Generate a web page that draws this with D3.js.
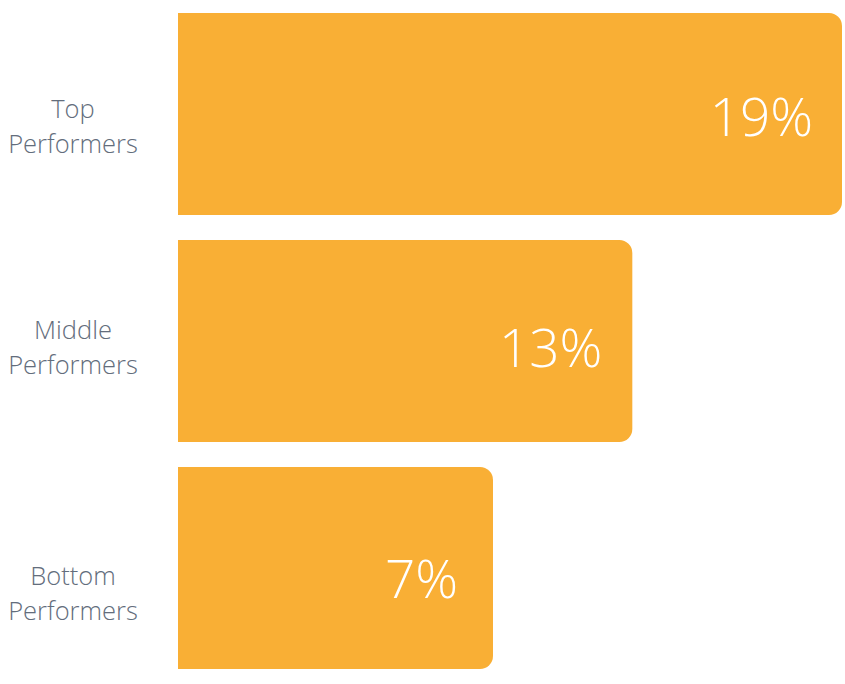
<!DOCTYPE html>
<html>
<head>
<meta charset="utf-8">
<script src="https://cdn.jsdelivr.net/npm/d3@7"></script>
<style>
  html, body { margin: 0; padding: 0; background: #fff; }
  svg { display: block; }
</style>
</head>
<body>
<svg id="chart" width="845" height="684"></svg>
<script>
// Data
const categories = ["Top Performers", "Middle Performers", "Bottom Performers"];
const labelLines = [["Top", "Performers"], ["Middle", "Performers"], ["Bottom", "Performers"]];
const values = [19, 13, 7];
const valueLabels = ["19%", "13%", "7%"];

// Layout (styling constants, not data)
const W = 845, H = 684;
const plotLeft = 178, plotRight = 842;
const plotTop = 13, plotBottom = 669;
const minBarWidth = 315;
const radius = 13;
const barColor = "#F9AF35";
const labelNudge = [4, -2, 17];     // vertical nudge of category labels per row
const valueNudgeY = [1, 5, 10];     // vertical nudge of value labels per row
const valuePadRight = [29, 30, 35]; // padding from bar end to value label

const svg = d3.select("#chart");

const y = d3.scaleBand()
  .domain(categories)
  .range([plotTop, plotBottom])
  .paddingInner(0.11)
  .paddingOuter(0);

const x = d3.scaleLinear()
  .domain([0, d3.max(values)])
  .range([0, plotRight - plotLeft]);

const data = categories.map((c, i) => ({ i, cat: c, value: values[i], label: valueLabels[i], lines: labelLines[i] }));

function barPath(x0, y0, w, h, r) {
  return `M${x0},${y0} H${x0 + w - r} A${r},${r} 0 0 1 ${x0 + w},${y0 + r} V${y0 + h - r} A${r},${r} 0 0 1 ${x0 + w - r},${y0 + h} H${x0} Z`;
}

const bw = d => Math.max(x(d.value), minBarWidth);

svg.selectAll("path.bar")
  .data(data)
  .join("path")
  .attr("class", "bar")
  .attr("fill", barColor)
  .attr("d", d => barPath(plotLeft, y(d.cat), bw(d), y.bandwidth(), radius));

svg.selectAll("text.val")
  .data(data)
  .join("text")
  .attr("class", "val")
  .attr("x", d => plotLeft + bw(d) - valuePadRight[d.i])
  .attr("y", d => y(d.cat) + y.bandwidth() / 2 + valueNudgeY[d.i])
  .attr("text-anchor", "end")
  .attr("dominant-baseline", "central")
  .attr("fill", "#fff")
  .style("font-family", "'Open Sans', sans-serif")
  .style("font-weight", 300)
  .style("font-size", "53px")
  .text(d => d.label);

const cats = svg.selectAll("text.cat")
  .data(data)
  .join("text")
  .attr("class", "cat")
  .attr("text-anchor", "middle")
  .attr("fill", "#636D7C")
  .style("font-family", "'Open Sans', sans-serif")
  .style("font-weight", 300)
  .style("font-size", "25.5px");

cats.selectAll("tspan")
  .data(d => d.lines.map((t, k) => ({ t, k, d })))
  .join("tspan")
  .attr("x", 73)
  .attr("y", o => y(o.d.cat) + y.bandwidth() / 2 + labelNudge[o.d.i] + o.k * 35)
  .text(o => o.t);
</script>
</body>
</html>
